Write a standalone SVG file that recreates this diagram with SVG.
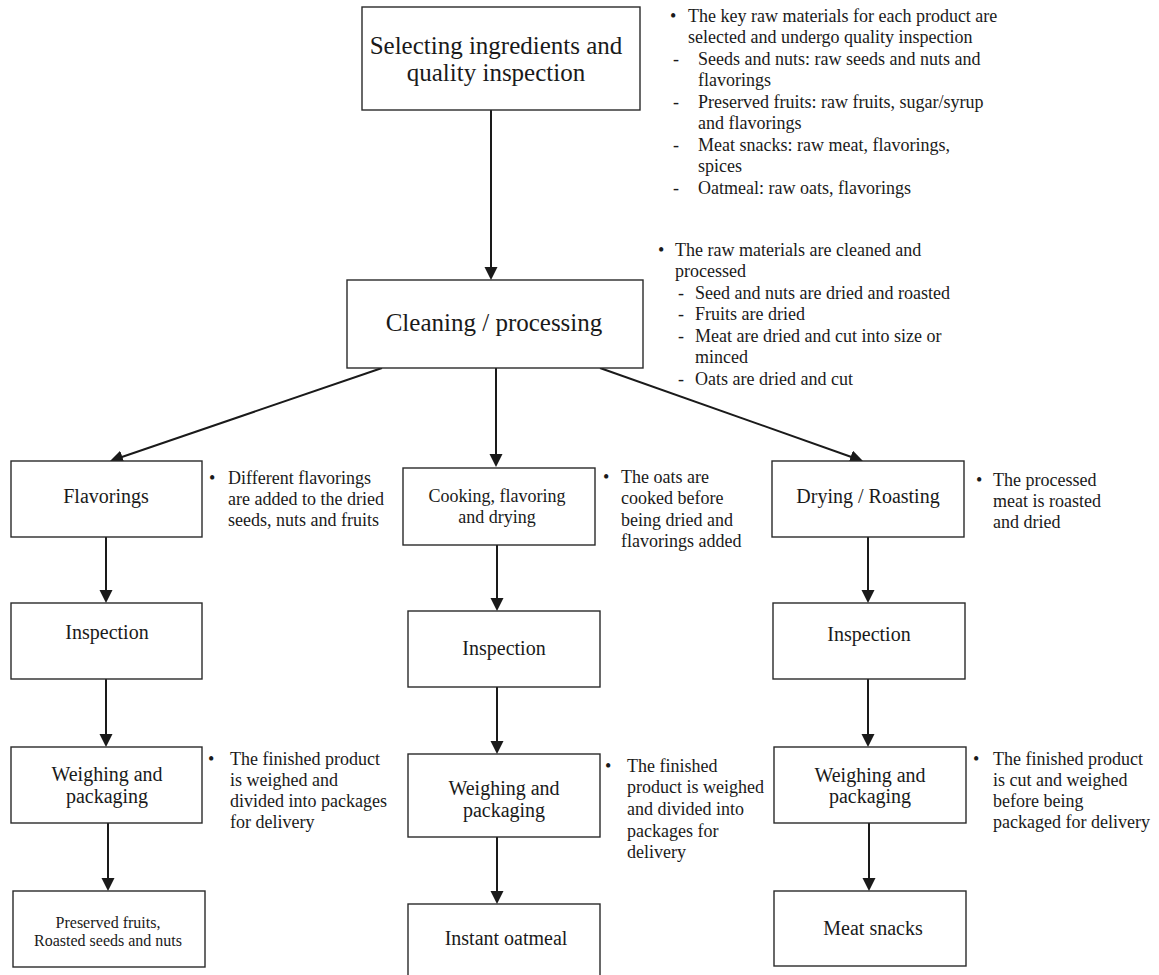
<svg xmlns="http://www.w3.org/2000/svg" width="1159" height="975" viewBox="0 0 1159 975">
  <defs>
    <marker id="arrow" markerUnits="userSpaceOnUse" markerWidth="14" markerHeight="14" refX="9" refY="6.5" orient="auto">
      <path d="M0,0 L13,6.5 L0,13 z" fill="#1a1a1a"/>
    </marker>
    <style>
      .box { fill: #ffffff; stroke: #2a2a2a; stroke-width: 1.4; }
      .conn { stroke: #1a1a1a; stroke-width: 2; fill: none; marker-end: url(#arrow); }
      text { font-family: "Liberation Serif", "Times New Roman", serif; fill: #1a1a1a; }
      .big { font-size: 25px; text-anchor: middle; }
      .mid { font-size: 20px; text-anchor: middle; }
      .mid18 { font-size: 18px; text-anchor: middle; }
      .small { font-size: 16px; text-anchor: middle; }
      .note { font-size: 18px; }
    </style>
  </defs>
  <rect width="1159" height="975" fill="#ffffff"/>

  <!-- connectors -->
  <g id="connectors">
    <line class="conn" x1="491" y1="110" x2="491" y2="276"/>
    <line class="conn" x1="382" y1="368" x2="113.8" y2="459.7"/>
    <line class="conn" x1="496" y1="368" x2="496" y2="463"/>
    <line class="conn" x1="600" y1="368" x2="859.2" y2="459.7"/>
    <line class="conn" x1="106" y1="537" x2="106" y2="599"/>
    <line class="conn" x1="106" y1="679" x2="106" y2="743"/>
    <line class="conn" x1="108" y1="823" x2="108" y2="887"/>
    <line class="conn" x1="497" y1="545" x2="497" y2="607"/>
    <line class="conn" x1="497" y1="687" x2="497" y2="750"/>
    <line class="conn" x1="497" y1="837" x2="497" y2="900"/>
    <line class="conn" x1="868" y1="537" x2="868" y2="599"/>
    <line class="conn" x1="868" y1="679" x2="868" y2="743"/>
    <line class="conn" x1="869" y1="823" x2="869" y2="887"/>
  </g>

  <!-- stage 1 -->
  <g id="select">
    <rect class="box" x="362" y="7" width="278" height="103"/>
    <text class="big" x="496" y="54">Selecting ingredients and</text>
    <text class="big" x="496" y="81">quality inspection</text>
  </g>
  <g id="select-note" class="note">
    <text x="670" y="22">•</text>
    <text x="688" y="22">The key raw materials for each product are</text>
    <text x="688" y="43">selected and undergo quality inspection</text>
    <text x="673" y="65">-</text>
    <text x="698" y="65">Seeds and nuts: raw seeds and nuts and</text>
    <text x="698" y="86">flavorings</text>
    <text x="673" y="108">-</text>
    <text x="698" y="108">Preserved fruits: raw fruits, sugar/syrup</text>
    <text x="698" y="129">and flavorings</text>
    <text x="673" y="151">-</text>
    <text x="698" y="151">Meat snacks: raw meat, flavorings,</text>
    <text x="698" y="172">spices</text>
    <text x="673" y="194">-</text>
    <text x="698" y="194">Oatmeal: raw oats, flavorings</text>
  </g>

  <!-- stage 2 -->
  <g id="cleaning">
    <rect class="box" x="347" y="280" width="296" height="88"/>
    <text class="big" x="494" y="331">Cleaning / processing</text>
  </g>
  <g id="cleaning-note" class="note">
    <text x="658" y="256">•</text>
    <text x="675" y="256">The raw materials are cleaned and</text>
    <text x="675" y="277">processed</text>
    <text x="678" y="299">-</text>
    <text x="695" y="299">Seed and nuts are dried and roasted</text>
    <text x="678" y="320">-</text>
    <text x="695" y="320">Fruits are dried</text>
    <text x="678" y="342">-</text>
    <text x="695" y="342">Meat are dried and cut into size or</text>
    <text x="695" y="363">minced</text>
    <text x="678" y="385">-</text>
    <text x="695" y="385">Oats are dried and cut</text>
  </g>

  <!-- left branch: seeds, nuts and fruits -->
  <g id="flavorings">
    <rect class="box" x="11" y="461" width="191" height="76"/>
    <text class="mid" x="106" y="503">Flavorings</text>
  </g>
  <g id="flavorings-note" class="note">
    <text x="209" y="484">•</text>
    <text x="228" y="484">Different flavorings</text>
    <text x="228" y="505">are added to the dried</text>
    <text x="228" y="526">seeds, nuts and fruits</text>
  </g>
  <g id="inspection-left">
    <rect class="box" x="11" y="603" width="191" height="76"/>
    <text class="mid" x="107" y="639">Inspection</text>
  </g>
  <g id="weighing-left">
    <rect class="box" x="11" y="747" width="191" height="76"/>
    <text class="mid" x="107" y="781">Weighing and</text>
    <text class="mid" x="107" y="803">packaging</text>
  </g>
  <g id="weighing-left-note" class="note">
    <text x="208" y="765">•</text>
    <text x="230" y="765">The finished product</text>
    <text x="230" y="786">is weighed and</text>
    <text x="230" y="807">divided into packages</text>
    <text x="230" y="828">for delivery</text>
  </g>
  <g id="product-left">
    <rect class="box" x="13" y="891" width="192" height="76"/>
    <text class="small" x="108" y="928">Preserved fruits,</text>
    <text class="small" x="108" y="946">Roasted seeds and nuts</text>
  </g>

  <!-- middle branch: oatmeal -->
  <g id="cooking">
    <rect class="box" x="403" y="468" width="192" height="77"/>
    <text class="mid18" x="497" y="502">Cooking, flavoring</text>
    <text class="mid18" x="497" y="523">and drying</text>
  </g>
  <g id="cooking-note" class="note">
    <text x="603" y="483">•</text>
    <text x="621" y="483">The oats are</text>
    <text x="621" y="504">cooked before</text>
    <text x="621" y="526">being dried and</text>
    <text x="621" y="547">flavorings added</text>
  </g>
  <g id="inspection-mid">
    <rect class="box" x="408" y="611" width="192" height="76"/>
    <text class="mid" x="504" y="655">Inspection</text>
  </g>
  <g id="weighing-mid">
    <rect class="box" x="408" y="754" width="192" height="83"/>
    <text class="mid" x="504" y="795">Weighing and</text>
    <text class="mid" x="504" y="817">packaging</text>
  </g>
  <g id="weighing-mid-note" class="note">
    <text x="605" y="772">•</text>
    <text x="627" y="772">The finished</text>
    <text x="627" y="793">product is weighed</text>
    <text x="627" y="815">and divided into</text>
    <text x="627" y="837">packages for</text>
    <text x="627" y="858">delivery</text>
  </g>
  <g id="product-mid">
    <rect class="box" x="408" y="904" width="192" height="80"/>
    <text class="mid" x="506" y="945">Instant oatmeal</text>
  </g>

  <!-- right branch: meat -->
  <g id="drying">
    <rect class="box" x="772" y="461" width="192" height="76"/>
    <text class="mid" x="868" y="503">Drying / Roasting</text>
  </g>
  <g id="drying-note" class="note">
    <text x="976" y="486">•</text>
    <text x="993" y="486">The processed</text>
    <text x="993" y="507">meat is roasted</text>
    <text x="993" y="528">and dried</text>
  </g>
  <g id="inspection-right">
    <rect class="box" x="773" y="603" width="192" height="76"/>
    <text class="mid" x="869" y="641">Inspection</text>
  </g>
  <g id="weighing-right">
    <rect class="box" x="774" y="747" width="192" height="76"/>
    <text class="mid" x="870" y="782">Weighing and</text>
    <text class="mid" x="870" y="803">packaging</text>
  </g>
  <g id="weighing-right-note" class="note">
    <text x="973" y="765">•</text>
    <text x="993" y="765">The finished product</text>
    <text x="993" y="786">is cut and weighed</text>
    <text x="993" y="807">before being</text>
    <text x="993" y="828">packaged for delivery</text>
  </g>
  <g id="product-right">
    <rect class="box" x="774" y="891" width="192" height="75"/>
    <text class="mid" x="873" y="935">Meat snacks</text>
  </g>
</svg>
